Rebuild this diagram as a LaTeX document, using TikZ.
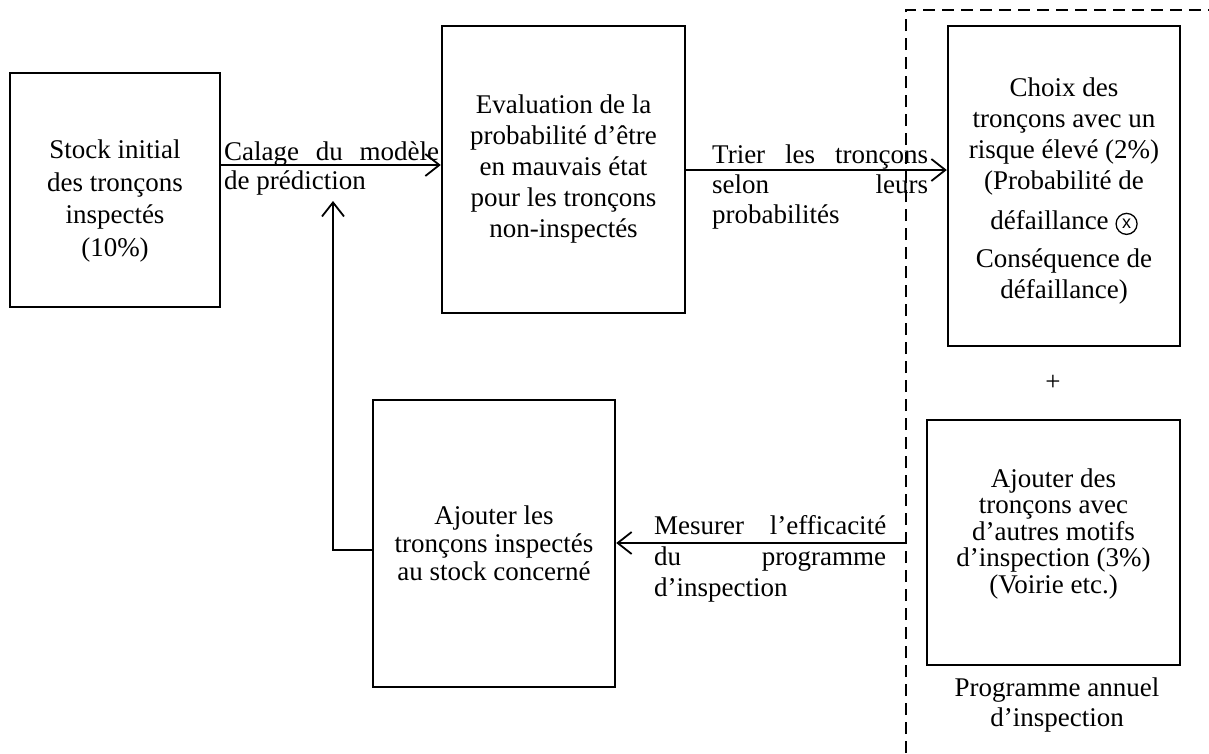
\documentclass[tikz,border=0pt]{standalone}
\usepackage{fontspec}
\setmainfont{Liberation Serif}
\newfontfamily\symsans{Liberation Sans}
\usetikzlibrary{arrows.meta}
\newcommand{\circx}{\tikz[baseline={([yshift=-1pt]cxn.base)}]\node[draw, circle, minimum size=21pt, line width=1.3pt, inner sep=0pt, align=center, font=\symsans\fontsize{18}{18}\selectfont] (cxn) {x};}
\begin{document}
\begin{tikzpicture}[x=1pt,y=-1pt,
  txt/.style={font=\fontsize{27}{31}\selectfont},
  box/.style={txt, draw, line width=2.4pt, align=center, inner sep=0pt},
  lbl/.style={txt, inner sep=0pt, align=left, anchor=north west},
  conn/.style={line width=1.8pt, -{Straight Barb[length=14pt,width=22pt,line width=1.8pt]}},
  plain/.style={line width=1.8pt},
  frame/.style={line width=2.4pt, dash pattern=on 12pt off 7pt}]
\useasboundingbox (0,0) rectangle (1209,753);
% boxes
\node[box, font=\fontsize{27}{32.5}\selectfont, minimum width=210pt, minimum height=234pt] (A) at (115,190)
  {\mbox{}\\[8pt]Stock initial\\des tronçons\\inspectés\\(10\%)};
\node[box, minimum width=243pt, minimum height=287pt] (B) at (563.5,169.5)
  {Evaluation de la\\probabilité d’être\\en mauvais état\\pour les tronçons\\non-inspectés};
\node[box, minimum width=232pt, minimum height=320pt] (C) at (1064,186)
  {\mbox{}\\[-2pt]Choix des\\tronçons avec un\\risque élevé (2\%)\\(Probabilité de\\[9pt]défaillance \circx\\[7pt]Conséquence de\\défaillance)};
\node[box, font=\fontsize{27}{26.5}\selectfont, minimum width=253pt, minimum height=245pt] (D) at (1053.5,542.5)
  {Ajouter des\\tronçons avec\\d’autres motifs\\d’inspection (3\%)\\(Voirie etc.)\\[-3.5pt]\mbox{}};
\node[box, font=\fontsize{27}{28}\selectfont, minimum width=242pt, minimum height=287pt] (E) at (494,543.5)
  {Ajouter les\\tronçons inspectés\\au stock concerné};
\node[txt] (plus) at (1053,383) {+};
\node[txt, font=\fontsize{27}{30}\selectfont, align=center] (prog) at (1057,705) {Programme annuel\\d’inspection};
% dashed frame
\coordinate (f1) at (906,753);
\coordinate (f2) at (906,10);
\coordinate (f3) at (1209,10);
\draw[frame] (f1) -- (f2) -- (f3);
% connectors
\draw[conn] (A.east |- 0,165) -- (B.west |- 0,165);
\draw[conn] (B.east |- 0,170) -- (C.west |- 0,170);
\coordinate (m0) at (906,543);
\draw[conn] (m0) -- (E.east |- m0);
\coordinate (lp) at (333,201);
\draw[plain] (E.west |- 0,550) -| (333,214);
\draw[conn] (333,230) -- (lp);
% labels
\node[lbl, font=\fontsize{27}{29}\selectfont] (l1) at (224,141.5)
  {\hbox to 215pt{Calage\hfill du\hfill modèle}\\de prédiction};
\node[lbl, font=\fontsize{27}{30}\selectfont] (l2) at (712,144.5)
  {\hbox to 216pt{Trier\hfill les\hfill tronçons}\\\hbox to 216pt{selon\hfill leurs}\\probabilités};
\node[lbl, font=\fontsize{27}{31}\selectfont] (l3) at (654,515)
  {\hbox to 232pt{Mesurer\hfill l’efficacité}\\\hbox to 232pt{du\hfill programme}\\d’inspection};
\end{tikzpicture}
\end{document}
